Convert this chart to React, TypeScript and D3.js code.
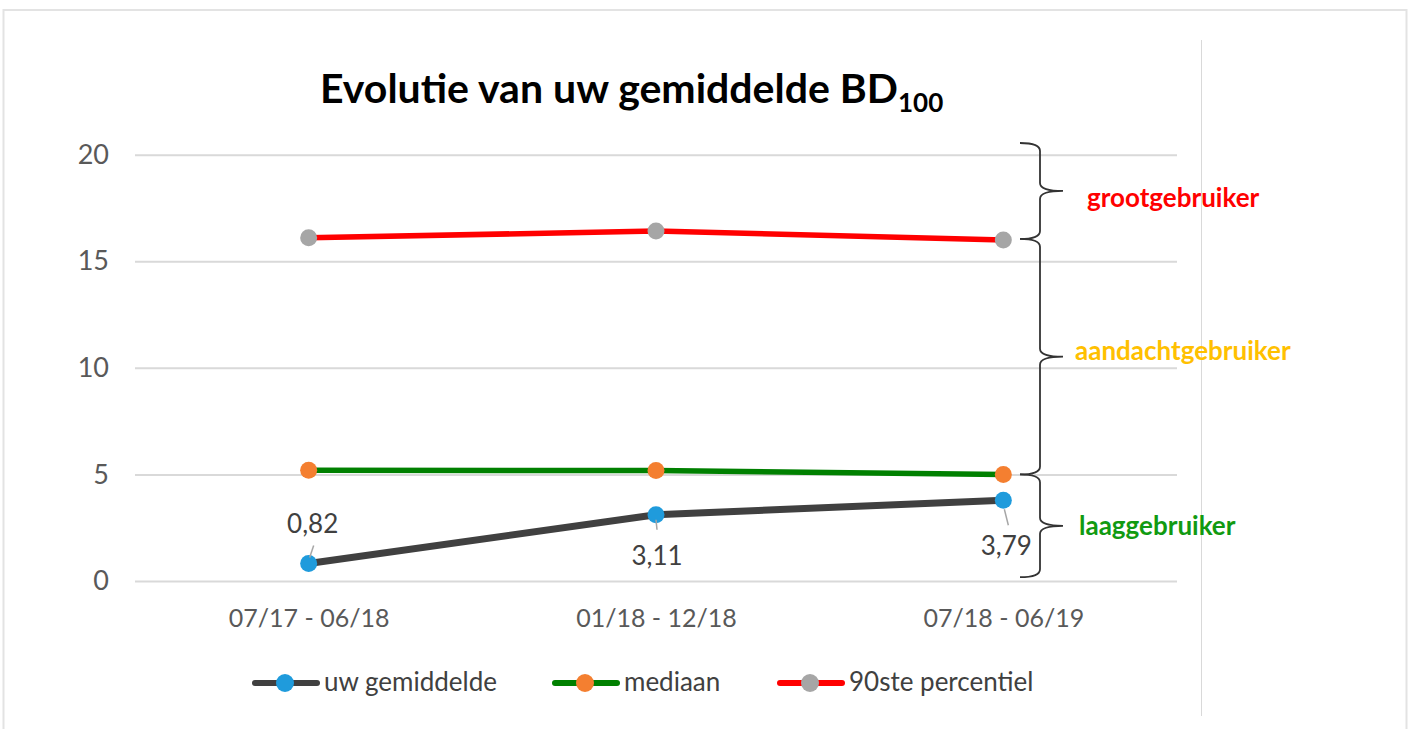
import React, { useEffect, useRef } from "react";
import * as d3 from "d3";

const periods = ["07/17 - 06/18", "01/18 - 12/18", "07/18 - 06/19"];
const uwGemiddelde = [0.82, 3.11, 3.79];
const mediaan = [5.2, 5.18, 5.0];
const percentiel90 = [16.1, 16.42, 16.0];
const yTicks = [0, 5, 10, 15, 20];
const dataLabels = ["0,82", "3,11", "3,79"];

const seriesNames = ["uw gemiddelde", "mediaan", "90ste percentiel"];
const lineColors = ["#404040", "#008000", "#ff0000"];
const dotColors = ["#1f9bdc", "#f47f30", "#a6a6a6"];

// brace bounds (values on y axis) + category labels
const braceBounds = [20.55, 16.05, 5.0, 0.18];
const braceLabels = ["grootgebruiker", "aandachtgebruiker", "laaggebruiker"];
const braceColors = ["#ff0000", "#ffc000", "#119a11"];

const App = () => {
  const svgRef = useRef(null);

  useEffect(() => {
    const svg = d3.select(svgRef.current);
    svg.selectAll("*").remove();
    const font = "Lato, 'Open Sans', sans-serif";

    const x = d3.scalePoint().domain(periods).range([135, 1177]).padding(0.5);
    const y = d3.scaleLinear().domain([0, 20]).range([581, 154.7]);

    // frame
    svg.append("rect").attr("x", 3.5).attr("y", 10).attr("width", 1403).attr("height", 730)
      .attr("fill", "none").attr("stroke", "#e3e3e3").attr("stroke-width", 2);
    svg.append("line").attr("x1", 1201.5).attr("x2", 1201.5).attr("y1", 40).attr("y2", 716)
      .attr("stroke", "#d9d9d9").attr("stroke-width", 1);

    // title
    const title = svg.append("text").attr("x", 320).attr("y", 103)
      .attr("font-family", font).attr("font-weight", 700).attr("font-size", 41).attr("fill", "#000");
    title.append("tspan").text("Evolutie van uw gemiddelde BD");
    title.append("tspan").attr("font-size", 26).attr("dy", 9).text("100");

    // gridlines + y labels
    const yAxis = d3.axisLeft(y).tickValues(yTicks).tickSize(-(1177 - 135)).tickPadding(26);
    const gy = svg.append("g").attr("transform", "translate(135,0)").call(yAxis);
    gy.select(".domain").remove();
    gy.selectAll(".tick line").attr("stroke", "#d9d9d9").attr("stroke-width", 2);
    gy.selectAll(".tick text").attr("font-family", font).attr("font-size", 27).attr("fill", "#595959");

    // x labels
    const xAxis = d3.axisBottom(x).tickSize(0).tickPadding(28);
    const gx = svg.append("g").attr("transform", "translate(0,581)").call(xAxis);
    gx.select(".domain").remove();
    gx.selectAll(".tick text").attr("font-family", font).attr("font-size", 25).attr("fill", "#595959");

    // series lines (drawn back to front)
    const allSeries = [uwGemiddelde, mediaan, percentiel90];
    const line = d3.line<number>().x((d, i) => x(periods[i])).y((d) => y(d));
    [2, 1, 0].forEach((s) => {
      svg.append("path").datum(allSeries[s]).attr("d", line).attr("fill", "none")
        .attr("stroke", lineColors[s]).attr("stroke-width", s === 0 ? 7 : 5.5)
        .attr("stroke-linejoin", "round");
      svg.selectAll(null).data(allSeries[s]).join("circle")
        .attr("cx", (d, i) => x(periods[i])).attr("cy", (d) => y(d)).attr("r", 8.5)
        .attr("fill", dotColors[s]);
    });

    // data labels with leader lines
    const leader = [[5, -18, 1, -6], [0, 5, 1, 15], [1, 9, 5, 25]];
    const labelOff = [[4, -31], [1, 50], [3, 55]];
    uwGemiddelde.forEach((v, i) => {
      const cx = x(periods[i]);
      const cy = y(v);
      const [a, b, c, d] = leader[i];
      svg.append("line").attr("x1", cx + a).attr("y1", cy + b).attr("x2", cx + c).attr("y2", cy + d)
        .attr("stroke", "#a6a6a6").attr("stroke-width", 1.5);
      svg.append("text").attr("x", cx + labelOff[i][0]).attr("y", cy + labelOff[i][1])
        .attr("text-anchor", "middle").attr("font-family", font).attr("font-size", 26)
        .attr("fill", "#404040").text(dataLabels[i]);
    });

    // braces
    const x0 = 1020, xv = 1040, xt = 1063, r = 8;
    braceLabels.forEach((lab, i) => {
      const y0 = y(braceBounds[i]);
      const y1 = y(braceBounds[i + 1]);
      const m = (y0 + y1) / 2;
      const p = d3.path();
      p.moveTo(x0, y0);
      p.quadraticCurveTo(xv, y0, xv, y0 + r);
      p.lineTo(xv, m - r);
      p.quadraticCurveTo(xv, m, xt, m);
      p.quadraticCurveTo(xv, m, xv, m + r);
      p.lineTo(xv, y1 - r);
      p.quadraticCurveTo(xv, y1, x0, y1);
      svg.append("path").attr("d", p.toString()).attr("fill", "none")
        .attr("stroke", "#333").attr("stroke-width", 1.8);
      const lx = [1087, 1075, 1079][i];
      const ly = [207, 360, 535][i];
      svg.append("text").attr("x", lx).attr("y", ly)
        .attr("font-family", font).attr("font-weight", 700).attr("font-size", 26)
        .attr("fill", braceColors[i]).text(lab);
    });

    // legend
    const legendX = [252, 552, 777];
    seriesNames.forEach((name, i) => {
      const lx = legendX[i];
      svg.append("line").attr("x1", lx + 3).attr("x2", lx + 65).attr("y1", 683).attr("y2", 683)
        .attr("stroke", lineColors[i]).attr("stroke-width", 6).attr("stroke-linecap", "round");
      svg.append("circle").attr("cx", lx + 33).attr("cy", 683).attr("r", 9).attr("fill", dotColors[i]);
      svg.append("text").attr("x", lx + 72).attr("y", 691).attr("font-family", font)
        .attr("font-size", 26).attr("fill", "#404040").text(name);
    });
  }, []);

  return (
    <svg ref={svgRef} width={1410} height={729}
      style={{ position: "absolute", left: 0, top: 0, background: "#fff" }} />
  );
};

export default App;
